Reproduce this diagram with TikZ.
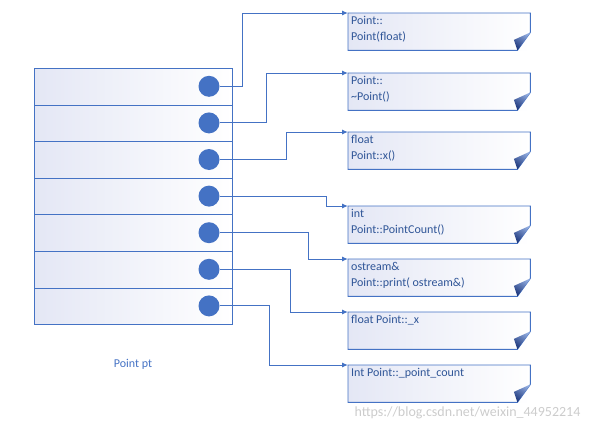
\documentclass[tikz,border=0pt]{standalone}
\usepackage{fontspec}
\setmainfont{Carlito}
\usepackage{tikz}
\usetikzlibrary{arrows.meta}
\definecolor{ppblue}{RGB}{68,114,196}
\definecolor{pptext}{RGB}{47,85,151}
\definecolor{pplav}{RGB}{228,231,245}
\definecolor{ppdark}{RGB}{30,56,125}
\definecolor{pplight}{RGB}{143,170,222}

\begin{document}
\begin{tikzpicture}[x=1pt, y=-1pt, font=\fontsize{12}{16}\selectfont]
        \useasboundingbox (0,0) rectangle (592,434);
        % the object pt
        \begin{scope}[every node/.style={draw=ppblue, line width=1pt, rectangle, anchor=north west, minimum width=198pt, minimum height=36.6pt, inner sep=0pt, left color=pplav, middle color=white, right color=white}]
                \foreach \i in {1,...,7}
                        \node (r\i) at (34,{68+36.6*(\i-1)}) {};
        \end{scope}
        \begin{scope}[every node/.style={circle, fill=ppblue, minimum size=21pt, inner sep=0pt}]
                \foreach \i in {1,...,7}
                        \node (c\i) at (209,{86.3+36.6*(\i-1)}) {};
        \end{scope}
        \node [text=ppblue] (ptname) at (133,364) {Point pt};
        % what the slots point to
        \begin{scope}[every node/.style={anchor=north west, inner sep=3pt, text=pptext, left color=pplav, middle color=white, right color=white}]
                \node (b1) at (348,13) {\parbox[t][31pt][t]{176pt}{Point::\\Point(float)}};
                \node (b2) at (348,73) {\parbox[t][31pt][t]{176pt}{Point::\\\textasciitilde Point()}};
                \node (b3) at (348,132) {\parbox[t][31pt][t]{176pt}{float\\Point::x()}};
                \node (b4) at (348,206) {\parbox[t][31pt][t]{176pt}{int\\Point::PointCount()}};
                \node (b5) at (348,259) {\parbox[t][31pt][t]{176pt}{ostream\&\\Point::print( ostream\&)}};
                \node (b6) at (348,312) {\parbox[t][31pt][t]{176pt}{float Point::\_x}};
                \node (b7) at (348,365) {\parbox[t][31pt][t]{176pt}{Int Point::\_point\_count}};
        \end{scope}
        \foreach \i in {1,...,7} {
                \draw[ppblue, line width=0.9pt] (b\i.north west) -- (b\i.north east) -- ([yshift=18pt]b\i.south east) -- ([xshift=-13pt]b\i.south east) -- (b\i.south west) -- cycle;
                \shade[top color=pplight, bottom color=ppdark, shading angle=-35] ([yshift=18pt]b\i.south east) -- ([xshift=-16.5pt,yshift=10.5pt]b\i.south east) -- ([xshift=-13pt]b\i.south east) -- cycle;
        }
        \begin{scope}[every path/.style={draw=ppblue, line width=1pt, -{Latex[length=6pt,width=5pt]}}]
                \draw (c1.east) -| ([xshift=-106pt]b1.north west) -- (b1.north west);
                \draw (c2.east) -| ([xshift=-82pt]b2.north west) -- (b2.north west);
                \draw (c3.east) -| ([xshift=-62pt]b3.north west) -- (b3.north west);
                \draw (c4.east) -| ([xshift=-22pt]b4.north west) -- (b4.north west);
                \draw (c5.east) -| ([xshift=-40pt]b5.north west) -- (b5.north west);
                \draw (c6.east) -| ([xshift=-58pt]b6.north west) -- (b6.north west);
                \draw (c7.east) -| ([xshift=-79pt]b7.north west) -- (b7.north west);
        \end{scope}
        \node [anchor=east, text=gray!40, font=\fontsize{14}{16}\selectfont] (wmark) at (584,413) {https://blog.csdn.net/weixin\_44952214};
\end{tikzpicture}
\end{document}
